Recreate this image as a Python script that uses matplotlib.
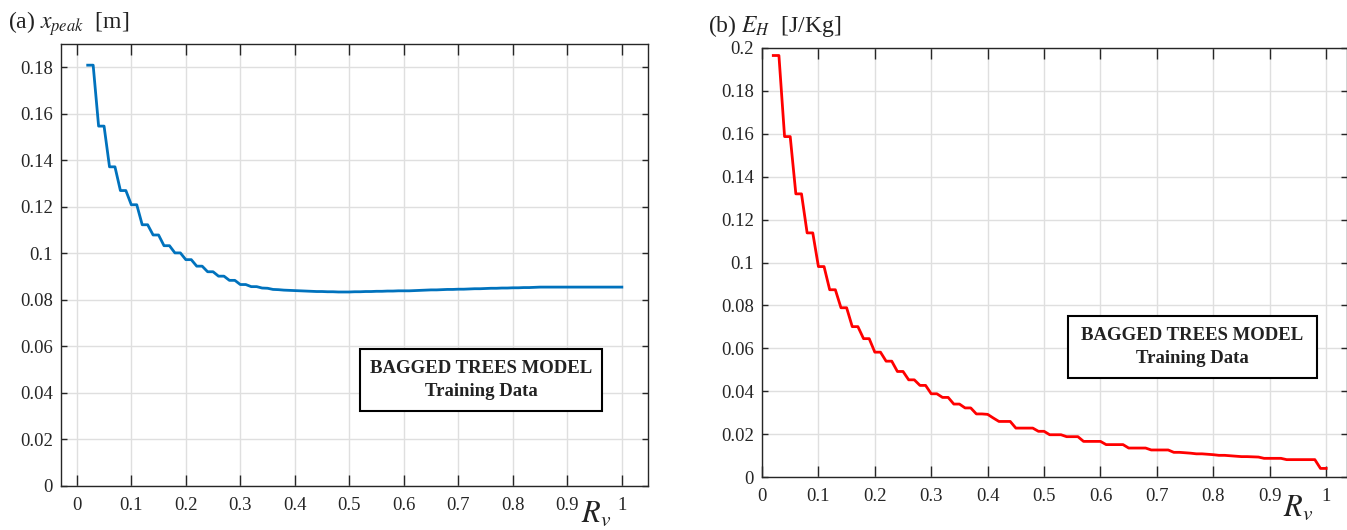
import numpy as np
import matplotlib
matplotlib.use("Agg")
import matplotlib.pyplot as plt
from matplotlib.patches import Rectangle

plt.rcParams["font.family"] = ["Liberation Serif", "DejaVu Serif"]
plt.rcParams["mathtext.fontset"] = "stix"

# velocity ratio samples shared by both curves
rv = np.round(np.arange(0.02, 1.0001, 0.01), 2)

# peak displacement x_peak [m], bagged trees prediction on training data
x_peak = [
    0.1809, 0.1809, 0.1547, 0.1547, 0.1372, 0.1372, 0.1270, 0.1270, 0.1209, 0.1209,
    0.1123, 0.1123, 0.1079, 0.1079, 0.1033, 0.1033, 0.1002, 0.1002, 0.0973, 0.0973,
    0.0945, 0.0945, 0.0921, 0.0921, 0.0902, 0.0902, 0.0884, 0.0884, 0.0866, 0.0866,
    0.0857, 0.0857, 0.0851, 0.0850, 0.0845, 0.0844, 0.0842, 0.0841, 0.0840, 0.0839,
    0.0838, 0.0837, 0.0836, 0.0836, 0.0835, 0.0835, 0.0834, 0.0834, 0.0834, 0.0835,
    0.0835, 0.0836, 0.0836, 0.0837, 0.0837, 0.0838, 0.0838, 0.0839, 0.0839, 0.0839,
    0.0840, 0.0841, 0.0842, 0.0843, 0.0843, 0.0844, 0.0845, 0.0845, 0.0846, 0.0846,
    0.0847, 0.0848, 0.0848, 0.0849, 0.0850, 0.0850, 0.0851, 0.0851, 0.0852, 0.0852,
    0.0853, 0.0853, 0.0854, 0.0855, 0.0855, 0.0855, 0.0855, 0.0855, 0.0855, 0.0855,
    0.0855, 0.0855, 0.0855, 0.0855, 0.0855, 0.0855, 0.0855, 0.0855, 0.0855,
]

# hysteretic energy E_H [J/Kg]
e_h = [
    0.1965, 0.1965, 0.1587, 0.1587, 0.1320, 0.1320, 0.1138, 0.1138, 0.0981, 0.0981,
    0.0873, 0.0873, 0.0789, 0.0789, 0.0701, 0.0701, 0.0645, 0.0645, 0.0582, 0.0582,
    0.0540, 0.0540, 0.0492, 0.0492, 0.0453, 0.0453, 0.0427, 0.0427, 0.0388, 0.0388,
    0.0371, 0.0371, 0.0340, 0.0340, 0.0322, 0.0322, 0.0294, 0.0294, 0.0292, 0.0275,
    0.0259, 0.0259, 0.0259, 0.0228, 0.0228, 0.0228, 0.0228, 0.0213, 0.0213, 0.0197,
    0.0197, 0.0197, 0.0188, 0.0188, 0.0188, 0.0166, 0.0166, 0.0166, 0.0166, 0.0151,
    0.0151, 0.0151, 0.0151, 0.0135, 0.0135, 0.0135, 0.0135, 0.0126, 0.0126, 0.0126,
    0.0126, 0.0115, 0.0115, 0.0113, 0.0111, 0.0108, 0.0108, 0.0106, 0.0104, 0.0101,
    0.0101, 0.0099, 0.0097, 0.0095, 0.0095, 0.0094, 0.0093, 0.0087, 0.0087, 0.0087,
    0.0087, 0.0081, 0.0081, 0.0081, 0.0081, 0.0081, 0.0081, 0.0040, 0.0040,
]

xticks = np.round(np.arange(0, 1.01, 0.1), 1)
xtick_labels = ["0", "0.1", "0.2", "0.3", "0.4", "0.5", "0.6", "0.7", "0.8", "0.9", "1"]
yticks_a = np.round(np.arange(0, 0.181, 0.02), 2)
yticks_b = np.round(np.arange(0, 0.201, 0.02), 2)

fig = plt.figure(figsize=(13.47, 5.30), dpi=100)
ax1 = fig.add_axes([61 / 1347, 1 - 486 / 530, 587 / 1347, 442 / 530])
ax2 = fig.add_axes([762 / 1347, 1 - 477 / 530, 585 / 1347, 429 / 530])


def style(ax, yticks):
    ax.set_xticks(xticks)
    ax.set_xticklabels(xtick_labels)
    ax.set_yticks(yticks)
    ax.set_yticklabels(["0" if v == 0 else f"{v:g}" for v in yticks])
    ax.grid(True, color="#dfdfdf", linewidth=1)
    ax.set_axisbelow(True)
    ax.tick_params(axis="both", direction="in", top=True, right=True,
                   labelsize=13.5, colors="#262626", width=1)
    ax.tick_params(axis="x", length=8, pad=8)
    ax.tick_params(axis="y", length=4.5, pad=6)
    for s in ax.spines.values():
        s.set_color("#262626")
        s.set_linewidth(1)


def model_box(ax, x0, x1, y0, y1):
    ax.add_patch(Rectangle((x0, y0), x1 - x0, y1 - y0, transform=ax.transAxes,
                           facecolor="white", edgecolor="black", linewidth=1.5, zorder=5))
    xc = (x0 + x1) / 2
    h = y1 - y0
    ax.text(xc, y0 + 0.68 * h, "BAGGED TREES MODEL", transform=ax.transAxes,
            ha="center", va="center", fontsize=13.5, fontweight="bold",
            color="#222222", zorder=6)
    ax.text(xc, y0 + 0.32 * h, "Training Data", transform=ax.transAxes,
            ha="center", va="center", fontsize=13.5, fontweight="bold",
            color="#222222", zorder=6)


# (a) peak displacement
ax1.plot(rv, x_peak, color="#0072BD", linewidth=2)
ax1.set_xlim(-0.029, 1.048)
ax1.set_ylim(0, 0.19)
style(ax1, yticks_a)
model_box(ax1, 0.509, 0.922, 0.170, 0.310)

# (b) hysteretic energy
ax2.plot(rv, e_h, color="#FF0000", linewidth=2)
ax2.set_xlim(0, 1.037)
ax2.set_ylim(0, 0.2)
style(ax2, yticks_b)
model_box(ax2, 0.523, 0.949, 0.231, 0.375)

fig.text(8 / 1347, 1 - 24 / 530, r"(a) $x_{peak}$  [m]", fontsize=17,
         va="center", ha="left", color="#222222")
fig.text(708 / 1347, 1 - 26 / 530, r"(b) $E_H$  [J/Kg]", fontsize=17,
         va="center", ha="left", color="#222222")
fig.text(596 / 1347, 1 - 514 / 530, r"$R_v$", fontsize=22,
         va="center", ha="center", color="#222222")
fig.text(1298 / 1347, 1 - 508 / 530, r"$R_v$", fontsize=22,
         va="center", ha="center", color="#222222")

fig.savefig("out.png", dpi=100)
